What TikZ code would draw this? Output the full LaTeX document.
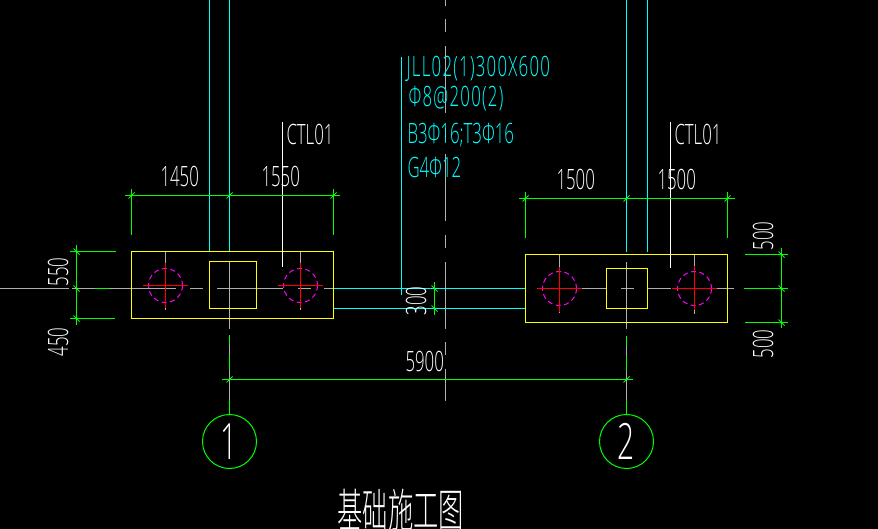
\documentclass[tikz,border=0pt]{standalone}
\usepackage{fontspec}
\newfontfamily\cad[FakeStretch=0.6]{Open Sans Light}
\newfontfamily\cadw[FakeStretch=0.6,LetterSpace=4.5]{Open Sans Light}
\newfontfamily\cadcjk[FakeStretch=0.55]{Noto Sans CJK SC Light}
\definecolor{cadgreen}{RGB}{0,255,0}
\definecolor{cadgrey}{RGB}{175,175,175}
\definecolor{cadcyan}{RGB}{0,255,255}
\definecolor{cadyellow}{RGB}{255,255,0}
\definecolor{cadmag}{RGB}{255,0,255}
\tikzset{
  dimg/.style={draw=cadgreen},
  gre/.style={draw=cadgrey},
  cya/.style={draw=cadcyan},
  yel/.style={draw=cadyellow},
  wht/.style={draw=white},
  redl/.style={draw=red},
  pile/.style={draw=cadmag,dash pattern=on 5pt off 3.5pt},
  lab/.style={inner sep=0pt,text=white,anchor=base west,font=\cad\fontsize{28}{28}\selectfont},
  rlab/.style={lab,rotate=90},
  clab/.style={lab,text=cadcyan},
  clabw/.style={clab,font=\cadw\fontsize{28}{28}\selectfont},
  axisb/.style={circle,draw=cadgreen,minimum size=54pt,inner sep=0pt,text=white,font=\cad\fontsize{50}{50}\selectfont}
}
\newcommand{\tickh}[2]{\draw[dimg] (#1-3,#2+3) -- (#1+3,#2-3);}
\newcommand{\tickv}[2]{\draw[dimg] (#1-3,#2-3) -- (#1+3,#2+3);}
\begin{document}
\begin{tikzpicture}[x=1pt,y=-1pt,line width=1pt]
\fill[black] (0,0) rectangle (878,529);
\useasboundingbox (0,0) rectangle (878,529);
% centre line between the footings
\foreach \a/\b in {0/6,19/32,46/113,128/141,154/221,235/248,262/329,342/355,369/401}
  \draw[gre] (445.5,\a) -- (445.5,\b);
% horizontal axis, left
\foreach \a/\b in {0/69,72/95,109/176,190/203,217/283,298/311,324/333}
  \draw[gre] (\a,288.5) -- (\b,288.5);
\draw[dimg] (95,288.5) -- (109,288.5);
% horizontal axis, right
\foreach \a/\b in {582/606,621/634,647/671,716/734}
  \draw[gre] (\a,288.5) -- (\b,288.5);
% vertical axes
\node[axisb] (axisA) at (229.5,441.5) {1};
\node[axisb] (axisB) at (626.5,441.5) {2};
\draw[gre] (229.5,261) -- (229.5,329);
\draw[gre] (229.5,335) -- (229.5,414);
\draw[dimg] (229.5,335) -- (229.5,345) (229.5,355) -- (229.5,370);
\draw[dimg] (229.5,400) -- (axisA.north);
\draw[gre] (626.5,262) -- (626.5,329);
\draw[gre] (626.5,336) -- (626.5,414);
\draw[dimg] (626.5,336) -- (626.5,346) (626.5,356) -- (626.5,371);
\draw[dimg] (626.5,400) -- (axisB.north);
% beam
\draw[cya] (333,288.5) -- (525.5,288.5);
\draw[cya] (333,308.5) -- (525.5,308.5);
% columns going up
\draw[cya] (209.5,0) -- (209.5,251);
\draw[cya] (229.5,0) -- (229.5,251);
\draw[cya] (626.5,0) -- (626.5,252);
\draw[cya] (647.5,0) -- (647.5,252);
% beam leader
\draw[cya] (401.5,57) -- (401.5,295);
% footing outlines
\draw[yel] (131.5,251.5) rectangle (333.5,318.5);
\draw[yel] (209.5,261.5) rectangle (256.5,308.5);
\draw[yel] (525.5,254.5) rectangle (727.5,322.5);
\draw[yel] (606.5,268.5) rectangle (647.5,308.5);
% piles
\foreach \x/\y/\t/\bb/\gt/\gb in {165.5/285.5/263/308/252/310, 300.5/285.5/263/308/252/310, 559.5/288.5/267/312/255/313, 694.5/288.5/266/310/255/314}{
  \draw[gre] (\x,\gt) -- (\x,\gb);
  \draw[pile] (\x,\y) circle (17);
  \draw[redl] (\x-22.5,\y) -- (\x+22.5,\y);
  \draw[redl] (\x,\t) -- (\x,\bb);
}
% leaders
\draw[wht] (282.5,122) -- (282.5,267);
\draw[wht] (670.5,122) -- (670.5,268);
% dimensions: top left
\draw[dimg] (125,195.5) -- (340,195.5);
\draw[dimg] (131.5,189) -- (131.5,235);
\draw[dimg] (333.5,189) -- (333.5,235);
\tickh{131.5}{195.5}\tickh{229.5}{195.5}\tickh{333.5}{195.5}
% top right
\draw[dimg] (519,198.5) -- (735,198.5);
\draw[dimg] (525.5,192) -- (525.5,238);
\draw[dimg] (727.5,192) -- (727.5,238);
\tickh{525.5}{198.5}\tickh{626.5}{198.5}\tickh{727.5}{198.5}
% left side
\draw[dimg] (76.5,245) -- (76.5,325);
\draw[dimg] (70,251.5) -- (116,251.5);
\draw[dimg] (70,318.5) -- (115,318.5);
\tickv{76.5}{251.5}\tickv{76.5}{288.5}\tickv{76.5}{318.5}
% right side
\draw[dimg] (781.5,248) -- (781.5,328);
\draw[dimg] (745,254.5) -- (788,254.5);
\draw[dimg] (744,288.5) -- (788,288.5);
\draw[dimg] (745,322.5) -- (788,322.5);
\tickv{781.5}{254.5}\tickv{781.5}{288.5}\tickv{781.5}{322.5}
% beam depth
\draw[dimg] (434.5,282) -- (434.5,315);
\tickv{434.5}{288.5}\tickv{434.5}{308.5}
% bottom
\draw[dimg] (222,379.5) -- (633,379.5);
\tickh{229.5}{379.5}\tickh{626.5}{379.5}
% labels
\node[lab] (d1) at (160,187) {1450};
\node[lab] (d2) at (261,187) {1550};
\node[lab] (d3) at (556,190) {1500};
\node[lab] (d4) at (657,190) {1500};
\node[lab] (d5) at (405,371) {5900};
\node[rlab] (d6) at (68,287) {550};
\node[rlab] (d7) at (68,357) {450};
\node[rlab] (d8) at (773,251) {500};
\node[rlab] (d9) at (773,359) {500};
\node[rlab] (d10) at (426,316) {300};
\node[lab] (c1) at (286,145) {CTL01};
\node[lab] (c2) at (674,145) {CTL01};
\node[clabw] (t1) at (406,77) {JLL02(1)300X600};
\node[clabw] (t2) at (408,107) {Φ8@200(2)};
\node[clab] (t3) at (407,144) {B3Φ16;T3Φ16};
\node[clab] (t4) at (407,178) {G4Φ12};
\node[lab,font=\cadcjk\fontsize{46}{46}\selectfont] (title) at (337,527) {基础施工图};
\end{tikzpicture}
\end{document}
